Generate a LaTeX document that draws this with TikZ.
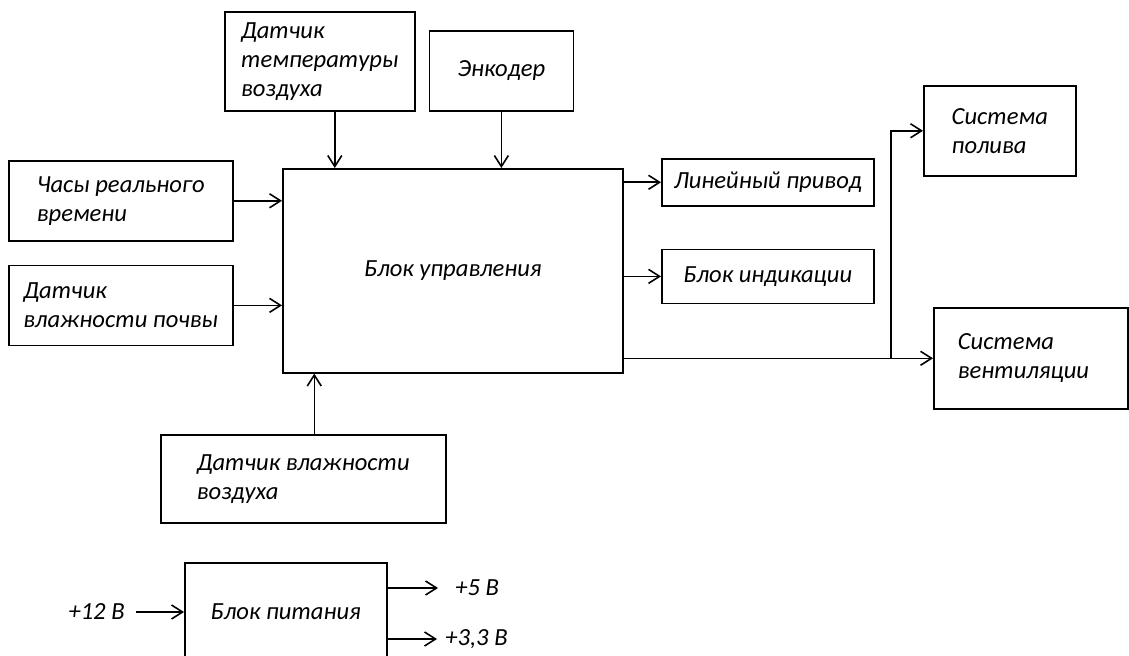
\documentclass[tikz,border=0pt]{standalone}
\usepackage{fontspec}
\setmainfont{Carlito}
\usepackage{tikz}
\usetikzlibrary{arrows.meta, positioning}

\begin{document}
\begin{tikzpicture}[
    every node/.style={font=\fontsize{14}{16.5}\selectfont\itshape},
    key/.style={rectangle, draw, line width=0.9pt, anchor=north west, align=left, inner sep=0pt},
    volt/.style={inner sep=0pt},
    arrow/.style={-{Straight Barb[length=2.2mm, width=2.8mm]}, line width=0.9pt}
]
\useasboundingbox (0,0) rectangle (22.58,13.1);

% Control unit in the middle
\node[key, minimum width=6.8cm, minimum height=4.08cm] (ctrl) at (5.64,9.74) {Блок управления};

% Sensors on top and on the left
\node[key, minimum width=3.8cm, minimum height=1.98cm] (temp) at (4.48,12.88) {Датчик\\температуры\\воздуха};
\node[key, minimum width=2.88cm, minimum height=1.6cm, right=0.26cm of temp.south east, anchor=south west] (enc) {Энкодер};
\node[key, minimum width=4.48cm, minimum height=1.6cm] (clock) at (0.16,9.9) {Часы реального\\времени};
\node[key, minimum width=4.48cm, minimum height=1.6cm, below=0.46cm of clock.south west, anchor=north west] (soil) {Датчик\\влажности почвы};
\node[key, minimum width=5.7cm, minimum height=1.76cm] (air) at (3.2,4.42) {Датчик влажности\\воздуха};

% Outputs on the right
\node[key, minimum width=4.24cm, minimum height=0.94cm] (drive) at (13.22,9.94) {Линейный привод};
\node[key, minimum width=4.24cm, minimum height=1.08cm, below=0.84cm of drive.south west, anchor=north west] (disp) {Блок индикации};
\node[key, minimum width=3.04cm, minimum height=1.8cm] (water) at (18.46,11.4) {Система\\полива};
\node[key, minimum height=2.02cm, text width=2.92cm, inner xsep=0.48cm] (vent) at (18.66,6.96) {Система\\вентиляции};

% Power supply
\node[key, minimum width=4.04cm, minimum height=1.95cm] (psu) at (3.68,1.86) {Блок питания};
\node[volt, anchor=east] (v12) at (2.5,0.86) {+12 В};
\node[volt, anchor=west] (v5) at (9.1,1.34) {+5 В};
\node[volt, anchor=west] (v33) at (8.9,0.32) {+3,3 В};

% Inputs
\draw[arrow] ([xshift=0.3cm]temp.south) -- ([xshift=0.3cm]temp.south |- ctrl.north);
\draw[arrow] (enc.south) -- (enc.south |- ctrl.north);
\draw[arrow] (clock.east) -- (clock.east -| ctrl.west);
\draw[arrow] (soil.east) -- (soil.east -| ctrl.west);
\draw[arrow] ([xshift=0.22cm]air.north) -- ([xshift=0.22cm]air.north |- ctrl.south);

% Outputs
\draw[arrow] (drive.west -| ctrl.east) -- (drive.west);
\draw[arrow] (disp.west -| ctrl.east) -- (disp.west);
\draw[arrow] (vent.west -| ctrl.east) -- (vent.west);
\coordinate (split) at ([xshift=-0.84cm]vent.west);
\draw[arrow] (split) |- (water.west);

% Supply lines
\draw[arrow] ([xshift=0.22cm]v12.east) -- (v12.east -| psu.west);
\draw[arrow, shorten >=0.34cm] (v5.west -| psu.east) -- (v5.west);
\draw[arrow, shorten >=0.16cm] (v33.west -| psu.east) -- (v33.west);

\end{tikzpicture}
\end{document}
